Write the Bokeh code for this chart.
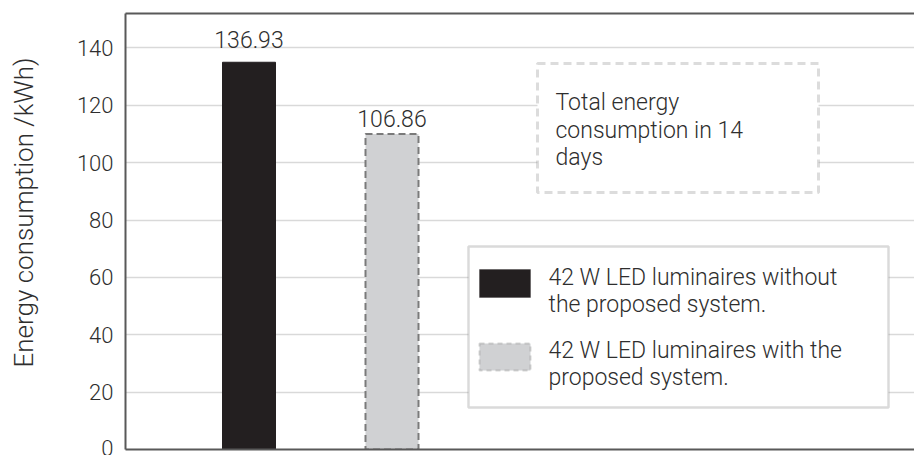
import math
from bokeh.plotting import figure
from bokeh.models import Range1d, FixedTicker, LinearAxis, BoxAnnotation, Label, ColumnDataSource, Title
from bokeh.core.properties import value
from bokeh.embed import file_html
from bokeh.resources import INLINE

# ---------------- data ----------------
categories = ["42 W LED luminaires without the proposed system.",
              "42 W LED luminaires with the proposed system."]
bar_heights = [135.0, 110.0]          # bar tops as drawn in the picture
bar_labels = ["136.93", "106.86"]     # value labels printed above the bars
y_ticks = [0, 20, 40, 60, 80, 100, 120, 140]
legend_lines = [["42 W LED luminaires without", "the proposed system."],
                ["42 W LED luminaires with the", "proposed system."]]
note_lines = ["Total energy", "consumption in 14", "days"]
y_title = "Energy consumption /kWh)"

# ---------------- geometry ----------------
W, H = 914, 455
FL, FT, FB = 125, 13, 449            # frame left / top / bottom in canvas px
PX_X = 143.0                          # px per category step
X0 = 1 - (248.5 - FL) / PX_X
X1 = X0 + (W - FL) / PX_X
Y1 = 152.0
PX_Y = (FB - FT) / Y1
MID = 8                               # baseline -> text middle, px

def dx(px):   # canvas px -> data x
    return X0 + (px - FL) / PX_X

def dy(py):   # canvas px -> data y
    return (FB - py) / PX_Y

FNAME = "Roboto Light"
FONT = value(FNAME)
TXT = "#2e2e2e"

p = figure(width=W, height=H, output_backend="svg", toolbar_location=None,
           x_range=Range1d(X0, X1), y_range=Range1d(0, Y1),
           min_border_left=FL, min_border_top=FT, min_border_bottom=H - FB,
           min_border_right=0, x_axis_location=None, y_axis_location="left")
p.outline_line_color = None
p.background_fill_color = "white"
p.border_fill_color = "white"

# y axis
ya = p.yaxis[0]
ya.ticker = FixedTicker(ticks=y_ticks)
ya.axis_line_color = "#595959"
ya.axis_line_width = 2
ya.major_tick_line_color = None
ya.minor_tick_line_color = None
ya.major_tick_out = 0
ya.major_tick_in = 0
ya.major_label_standoff = 12
ya.major_label_text_font = FNAME
ya.major_label_text_font_size = "22px"
ya.major_label_text_color = TXT

# bottom and top frame lines as bare axes
for loc in ("below", "above"):
    ax = LinearAxis(ticker=FixedTicker(ticks=[]), axis_line_color="#595959",
                    axis_line_width=2, major_tick_line_color=None, major_tick_out=0,
                    minor_tick_line_color=None, major_label_text_font_size="0px")
    p.add_layout(ax, loc)

# blank spacer between the tick labels and the y title
spacer = LinearAxis(ticker=FixedTicker(ticks=[y_ticks[0]]), axis_line_color=None,
                    major_tick_line_color="white", minor_tick_line_color=None,
                    major_tick_in=0, major_tick_out=25, major_label_standoff=0,
                    major_label_overrides={y_ticks[0]: ""})
p.add_layout(spacer, "left")

# y-axis title
p.add_layout(Title(text=y_title, align="left", vertical_align="top", offset=82,
                   standoff=15, text_font=FNAME, text_font_size="26px",
                   text_color=TXT, text_font_style="normal"), "left")

p.xgrid.visible = False
p.ygrid.ticker = FixedTicker(ticks=y_ticks)
p.ygrid.grid_line_color = "#d9d9d9"
p.ygrid.grid_line_width = 1.5

positions = [i + 1 for i in range(len(categories))]
bw = 53 / PX_X

src1 = ColumnDataSource(dict(x=[positions[0]], top=[bar_heights[0]]))
src2 = ColumnDataSource(dict(x=[positions[1]], top=[bar_heights[1]]))
p.vbar(x="x", top="top", width=bw, bottom=0, source=src1,
       fill_color="#231f20", line_color="#231f20", line_width=1)
p.vbar(x="x", top="top", width=bw, bottom=0, source=src2,
       fill_color="#d0d1d3", line_color="#7a7a7a", line_width=2, line_dash="7 4")

# value labels above the bars (baseline gaps in px as in the picture)
gaps_px = [15, 7.5]
lab_src = ColumnDataSource(dict(x=positions,
                                y=[h + (g + MID) / PX_Y for h, g in zip(bar_heights, gaps_px)],
                                text=bar_labels))
p.text(x="x", y="y", text="text", source=lab_src, text_font=FONT,
       text_font_size="23px", text_color=TXT, text_align="center",
       text_baseline="middle")

# note box
p.add_layout(BoxAnnotation(left=dx(537), right=dx(818), top=dy(63), bottom=dy(192),
                           fill_color="white", fill_alpha=1, line_color="#8a8a8a",
                           line_width=3, line_dash="8 5"))
for i, t in enumerate(note_lines):
    p.add_layout(Label(x=dx(555), y=dy(110 + 27.5 * i - MID), text=t, text_font=FNAME,
                       text_font_size="23px", text_color=TXT,
                       text_baseline="middle"))

# legend box
p.add_layout(BoxAnnotation(left=dx(468), right=dx(888), top=dy(246), bottom=dy(407),
                           fill_color="white", fill_alpha=1, line_color="#858585",
                           line_width=2.5))
p.add_layout(BoxAnnotation(left=dx(479), right=dx(530), top=dy(269), bottom=dy(297),
                           fill_color="#231f20", fill_alpha=1, line_color="#231f20"))
p.add_layout(BoxAnnotation(left=dx(479), right=dx(530), top=dy(343), bottom=dy(370),
                           fill_color="#d0d1d3", fill_alpha=1, line_color="#7a7a7a",
                           line_width=2, line_dash="5 4"))
for k, lines in enumerate(legend_lines):
    base = 285 + 73.3 * k
    for j, t in enumerate(lines):
        p.add_layout(Label(x=dx(548), y=dy(base + 26.7 * j - MID), text=t, text_font=FNAME,
                           text_font_size="23px", text_color=TXT,
                           text_baseline="middle"))

open("out.html", "w").write(file_html(p, INLINE))
